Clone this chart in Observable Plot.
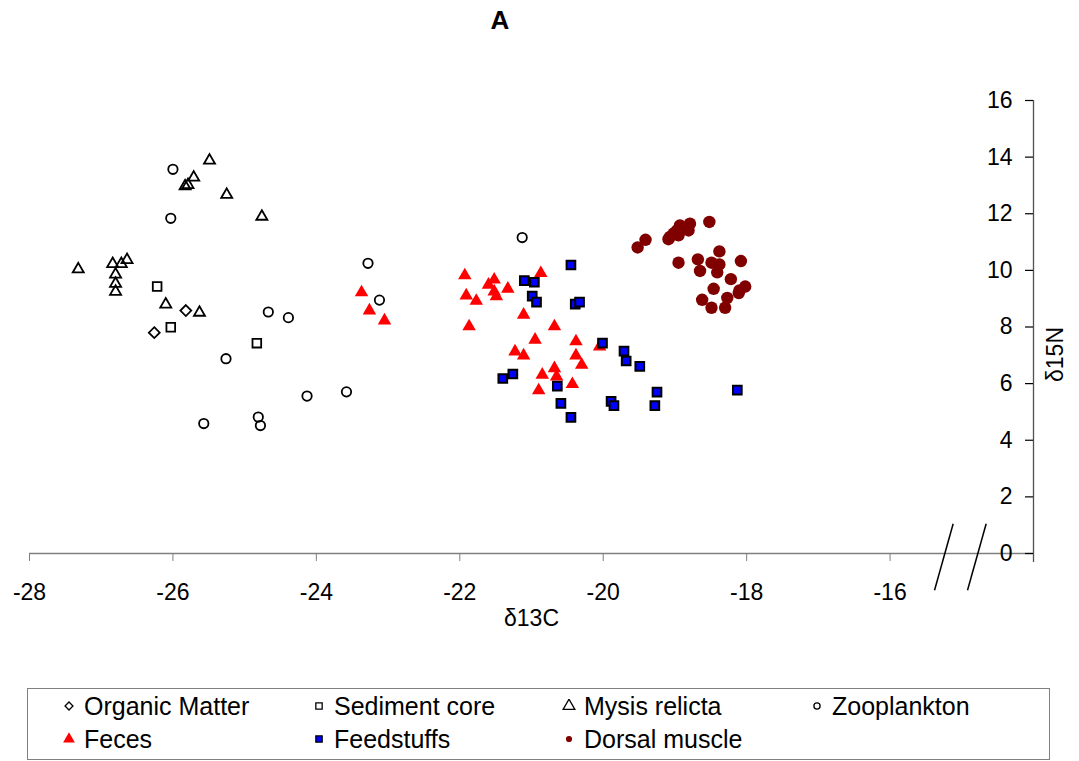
<!DOCTYPE html>
<html><head><meta charset="utf-8">
<script src="https://cdn.jsdelivr.net/npm/d3@7"></script>
<script src="https://cdn.jsdelivr.net/npm/@observablehq/plot@0.6"></script>
<style>
body{margin:0;background:#fff;font-family:"Liberation Sans",Arial,sans-serif;}
#wrap{position:relative;width:1079px;height:761px;overflow:hidden;}
#title{position:absolute;left:0;top:0;width:1000px;text-align:center;font-weight:bold;font-size:26px;line-height:40px;}
#chart{position:absolute;left:0;top:45px;}
#legend{position:absolute;left:27px;top:688px;width:1023px;height:72px;border:1.5px solid #808080;box-sizing:border-box;}
.item{position:absolute;display:flex;align-items:center;font-size:25px;height:30px;white-space:nowrap;}
.item svg{margin-right:8px;}
</style></head>
<body>
<div id="wrap">
  <div id="title">A</div>
  <div id="chart"></div>
  <div id="legend"></div>
</div>
<script>
// Tick labels
const xTicks = [-28, -26, -24, -22, -20, -18, -16];
const yTicks = [0, 2, 4, 6, 8, 10, 12, 14, 16];
const axisBreaks = [-15.25, -14.79];

// Series (c = δ13C, n = δ15N)
const organicMatter = [
  {c:-25.82,n:8.58},{c:-26.26,n:7.80}
];
const sedimentCore = [
  {c:-26.22,n:9.43},{c:-26.03,n:7.99},{c:-24.83,n:7.43}
];
const mysisRelicta = [
  {c:-25.49,n:13.88},{c:-25.71,n:13.28},{c:-25.83,n:12.97},{c:-25.79,n:13.02},{c:-25.25,n:12.67},
  {c:-24.76,n:11.90},{c:-27.32,n:10.04},{c:-26.84,n:10.23},{c:-26.72,n:10.23},{c:-26.64,n:10.37},
  {c:-26.80,n:9.86},{c:-26.80,n:9.53},{c:-26.80,n:9.25},{c:-26.10,n:8.80},{c:-25.63,n:8.51}
];
const zooplankton = [
  {c:-26.00,n:13.57},{c:-26.03,n:11.84},{c:-23.28,n:10.25},{c:-23.12,n:8.95},{c:-24.67,n:8.53},
  {c:-24.39,n:8.33},{c:-25.26,n:6.88},{c:-24.13,n:5.56},{c:-23.58,n:5.71},{c:-25.57,n:4.59},
  {c:-24.81,n:4.82},{c:-24.78,n:4.52},{c:-21.13,n:11.16}
];
const feces = [
  {c:-23.37,n:9.22},{c:-23.26,n:8.58},{c:-23.05,n:8.23},{c:-21.93,n:9.82},{c:-21.91,n:9.11},
  {c:-21.77,n:8.92},{c:-21.87,n:8.02},{c:-21.60,n:9.49},{c:-21.52,n:9.67},{c:-21.52,n:9.25},
  {c:-21.49,n:9.08},{c:-21.33,n:9.35},{c:-20.87,n:9.90},{c:-21.11,n:8.43},{c:-20.68,n:8.02},
  {c:-20.95,n:7.55},{c:-21.23,n:7.13},{c:-21.11,n:6.99},{c:-20.38,n:7.49},{c:-20.38,n:6.99},
  {c:-20.30,n:6.66},{c:-20.85,n:6.31},{c:-20.68,n:6.54},{c:-20.65,n:6.25},{c:-20.90,n:5.76},
  {c:-20.43,n:5.98},{c:-20.05,n:7.31}
];
const feedstuffs = [
  {c:-20.45,n:10.19},{c:-21.10,n:9.64},{c:-20.96,n:9.58},{c:-20.99,n:9.09},{c:-20.93,n:8.88},
  {c:-20.39,n:8.81},{c:-20.33,n:8.88},{c:-20.01,n:7.43},{c:-21.40,n:6.18},{c:-21.26,n:6.34},
  {c:-20.64,n:5.91},{c:-20.59,n:5.30},{c:-20.45,n:4.81},{c:-19.89,n:5.37},{c:-19.85,n:5.22},
  {c:-19.71,n:7.15},{c:-19.68,n:6.80},{c:-19.49,n:6.61},{c:-19.25,n:5.70},{c:-19.28,n:5.22},
  {c:-18.13,n:5.77}
];
const dorsalMuscle = [
  {c:-19.52,n:10.81},{c:-19.41,n:11.08},{c:-19.09,n:11.10},{c:-19.07,n:11.18},{c:-19.02,n:11.30},
  {c:-18.97,n:11.41},{c:-18.93,n:11.59},{c:-18.81,n:11.41},{c:-18.79,n:11.65},{c:-18.95,n:11.24},
  {c:-18.52,n:11.71},{c:-18.95,n:10.27},{c:-18.68,n:10.39},{c:-18.65,n:9.98},{c:-18.38,n:10.67},
  {c:-18.49,n:10.27},{c:-18.38,n:10.21},{c:-18.41,n:9.93},{c:-18.08,n:10.33},{c:-18.22,n:9.69},
  {c:-18.02,n:9.43},{c:-18.10,n:9.29},{c:-18.11,n:9.20},{c:-18.46,n:9.35},{c:-18.27,n:9.03},
  {c:-18.62,n:8.96},{c:-18.49,n:8.68},{c:-18.30,n:8.68}
];

const legendItems = [
  {name:"Organic Matter", symbol:"diamond2", fill:"none", stroke:"#000"},
  {name:"Sediment core", symbol:"square", fill:"none", stroke:"#000"},
  {name:"Mysis relicta", symbol:"triangle", fill:"none", stroke:"#000"},
  {name:"Zooplankton", symbol:"circle", fill:"none", stroke:"#000"},
  {name:"Feces", symbol:"triangle", fill:"#ff0000", stroke:"none"},
  {name:"Feedstuffs", symbol:"square", fill:"#0000ff", stroke:"#000"},
  {name:"Dorsal muscle", symbol:"circle", fill:"#800000", stroke:"none"}
];

const hollow = {x:"c", y:"n", fill:"none", stroke:"#000", strokeWidth:1.8};

const chart = Plot.plot({
  width: 1079,
  height: 620,
  marginTop: 55,
  marginBottom: 112,
  marginLeft: 29,
  marginRight: 46,
  x: {domain: [-28, -14], label: null},
  y: {domain: [0, 16], label: null},
  style: {fontFamily: "'Liberation Sans', Arial, sans-serif", fontSize: "23px", color: "#000", background: "transparent", overflow: "visible"},
  marks: [
    Plot.ruleY([0], {x1: -28, x2: -14, stroke: "#808080", strokeWidth: 1.6}),
    Plot.axisX({ticks: xTicks, tickSize: 8, tickPadding: 22, stroke: "#808080", fontSize: 23, label: null, tickFormat: d => String(d)}),
    Plot.ruleX([-14], {y1: -0.32, y2: 16, stroke: "#505050", strokeWidth: 1.3}),
    Plot.ruleY(yTicks, {x1: -14, x2: -14, insetLeft: -8, stroke: "#000", strokeWidth: 1.2}),
    Plot.axisY({anchor: "right", ticks: yTicks, tickSize: 0, tickPadding: 0, textAnchor: "end", dx: -21, fontSize: 23, label: null, tickFormat: d => String(d)}),
    Plot.link(axisBreaks, {x1: d => d - 0.13, x2: d => d + 0.13, y1: -1.3, y2: 1.05, stroke: "#000", strokeWidth: 1.5}),
    Plot.text(["δ13C"], {frameAnchor: "bottom", dy: 72, fontSize: 23}),
    Plot.text(["δ15N"], {frameAnchor: "right", dx: 22, rotate: -90, fontSize: 23}),
    Plot.dot(organicMatter, {...hollow, symbol: "diamond2", r: 4.9}),
    Plot.dot(sedimentCore, {...hollow, symbol: "square", r: 4.9}),
    Plot.dot(mysisRelicta, {...hollow, symbol: "triangle", r: 4.1}),
    Plot.dot(zooplankton, {...hollow, symbol: "circle", r: 4.7}),
    Plot.dot(feces, {x: "c", y: "n", symbol: "triangle", r: 5.0, fill: "#ff0000", stroke: "none"}),
    Plot.dot(feedstuffs, {x: "c", y: "n", symbol: "square", r: 4.9, fill: "#0000ff", stroke: "#000", strokeWidth: 2}),
    Plot.dot(dorsalMuscle, {x: "c", y: "n", symbol: "circle", r: 6.2, fill: "#800000", stroke: "none"})
  ]
});
document.getElementById("chart").appendChild(chart);

// Legend
const colLeft = [34, 284, 534, 782];
const rowTop = [2, 35];
const legendSizes = {diamond2: 40, square: 40, triangle: 60, circle: 30};
const symbolMap = {diamond2: d3.symbolDiamond2, square: d3.symbolSquare, triangle: d3.symbolTriangle, circle: d3.symbolCircle};
const legend = document.getElementById("legend");
legendItems.forEach((it, i) => {
  const div = document.createElement("div");
  div.className = "item";
  div.style.left = colLeft[i % 4] + "px";
  div.style.top = rowTop[Math.floor(i / 4)] + "px";
  const path = d3.symbol(symbolMap[it.symbol], legendSizes[it.symbol])();
  div.innerHTML = `<svg width="14" height="14" viewBox="-7 -7 14 14"><path d="${path}" fill="${it.fill}" stroke="${it.stroke}" stroke-width="1.3"/></svg><span>${it.name}</span>`;
  legend.appendChild(div);
});
</script>
</body></html>
